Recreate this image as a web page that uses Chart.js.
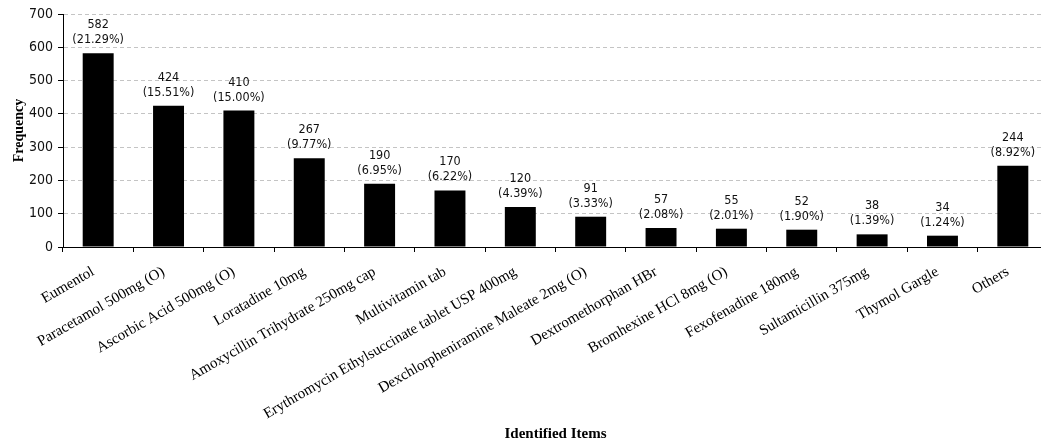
<!DOCTYPE html>
<html>
<head>
<meta charset="utf-8">
<script src="https://cdn.jsdelivr.net/npm/chart.js@4"></script>
<style>
  html, body { margin: 0; padding: 0; overflow: hidden; background: #fff; }
  #wrap { position: relative; width: 1048px; height: 444px; }
</style>
</head>
<body>
<div id="wrap"><canvas id="c"></canvas></div>
<script>
const categories = [
  "Eumentol",
  "Paracetamol 500mg (O)",
  "Ascorbic Acid 500mg (O)",
  "Loratadine 10mg",
  "Amoxycillin Trihydrate 250mg cap",
  "Multivitamin tab",
  "Erythromycin Ethylsuccinate tablet USP 400mg",
  "Dexchlorpheniramine Maleate 2mg (O)",
  "Dextromethorphan HBr",
  "Bromhexine HCl 8mg (O)",
  "Fexofenadine 180mg",
  "Sultamicillin 375mg",
  "Thymol Gargle",
  "Others"
];
const frequencies = [582, 424, 410, 267, 190, 170, 120, 91, 57, 55, 52, 38, 34, 244];
const percentLabels = ["21.29%", "15.51%", "15.00%", "9.77%", "6.95%", "6.22%", "4.39%", "3.33%", "2.08%", "2.01%", "1.90%", "1.39%", "1.24%", "8.92%"];
const yTicks = [0, 100, 200, 300, 400, 500, 600, 700];

const serif = "'Liberation Serif', 'Times New Roman', serif";
const sans = "'DejaVu Sans Condensed', 'DejaVu Sans', sans-serif";

const barLabels = {
  id: 'barLabels',
  afterDatasetsDraw(chart) {
    const ctx = chart.ctx;
    const meta = chart.getDatasetMeta(0);
    ctx.save();
    ctx.fillStyle = '#111';
    ctx.font = "12.5px " + sans;
    ctx.textAlign = 'center';
    ctx.textBaseline = 'alphabetic';
    meta.data.forEach((bar, i) => {
      const x = bar.x;
      const y = bar.y - 10;
      ctx.fillText('(' + percentLabels[i] + ')', x, y);
      ctx.fillText(String(frequencies[i]), x, y - 15);
    });
    ctx.restore();
  }
};

new Chart(document.getElementById('c'), {
  type: 'bar',
  data: {
    labels: categories,
    datasets: [{
      data: frequencies,
      backgroundColor: '#000',
      borderWidth: 0,
      barPercentage: 0.44,
      categoryPercentage: 1.0
    }]
  },
  options: {
    responsive: true,
    maintainAspectRatio: false,
    animation: false,
    devicePixelRatio: 1,
    layout: { padding: { top: 14, right: 0, bottom: 0, left: 0 } },
    plugins: {
      legend: { display: false },
      tooltip: { enabled: false }
    },
    scales: {
      x: {
        offset: true,
        grid: {
          display: true,
          offset: true,
          drawOnChartArea: false,
          drawTicks: true,
          tickLength: 5,
          tickColor: '#000',
          color: '#000'
        },
        border: { display: true, color: '#000', width: 1 },
        ticks: {
          autoSkip: false,
          minRotation: 30,
          maxRotation: 30,
          padding: 11,
          labelOffset: -5,
          color: '#000',
          font: { family: serif, size: 15 }
        },
        title: {
          display: true,
          text: 'Identified Items',
          color: '#000',
          font: { family: serif, size: 15, weight: 'bold' },
          padding: { top: 0, bottom: 1 }
        },
        afterFit(scale) { scale.height = 197; }
      },
      y: {
        min: 0,
        max: 700,
        afterBuildTicks(scale) { scale.ticks = yTicks.map(v => ({ value: v })); },
        grid: {
          color: (c) => (c.tick && c.tick.value === 0) ? 'rgba(0,0,0,0)' : '#c4c4c4',
          tickColor: '#000',
          tickLength: 5,
          tickBorderDash: [],
          lineWidth: 1
        },
        border: { display: true, color: '#000', width: 1, dash: [4, 3] },
        ticks: {
          padding: 5,
          color: '#111',
          font: { family: sans, size: 14 }
        },
        title: {
          display: true,
          text: 'Frequency',
          color: '#000',
          font: { family: serif, size: 14, weight: 'bold' },
          padding: { top: 11, bottom: 0 }
        },
        afterFit(scale) { scale.width = 63; }
      }
    }
  },
  plugins: [barLabels]
});
</script>
</body>
</html>
